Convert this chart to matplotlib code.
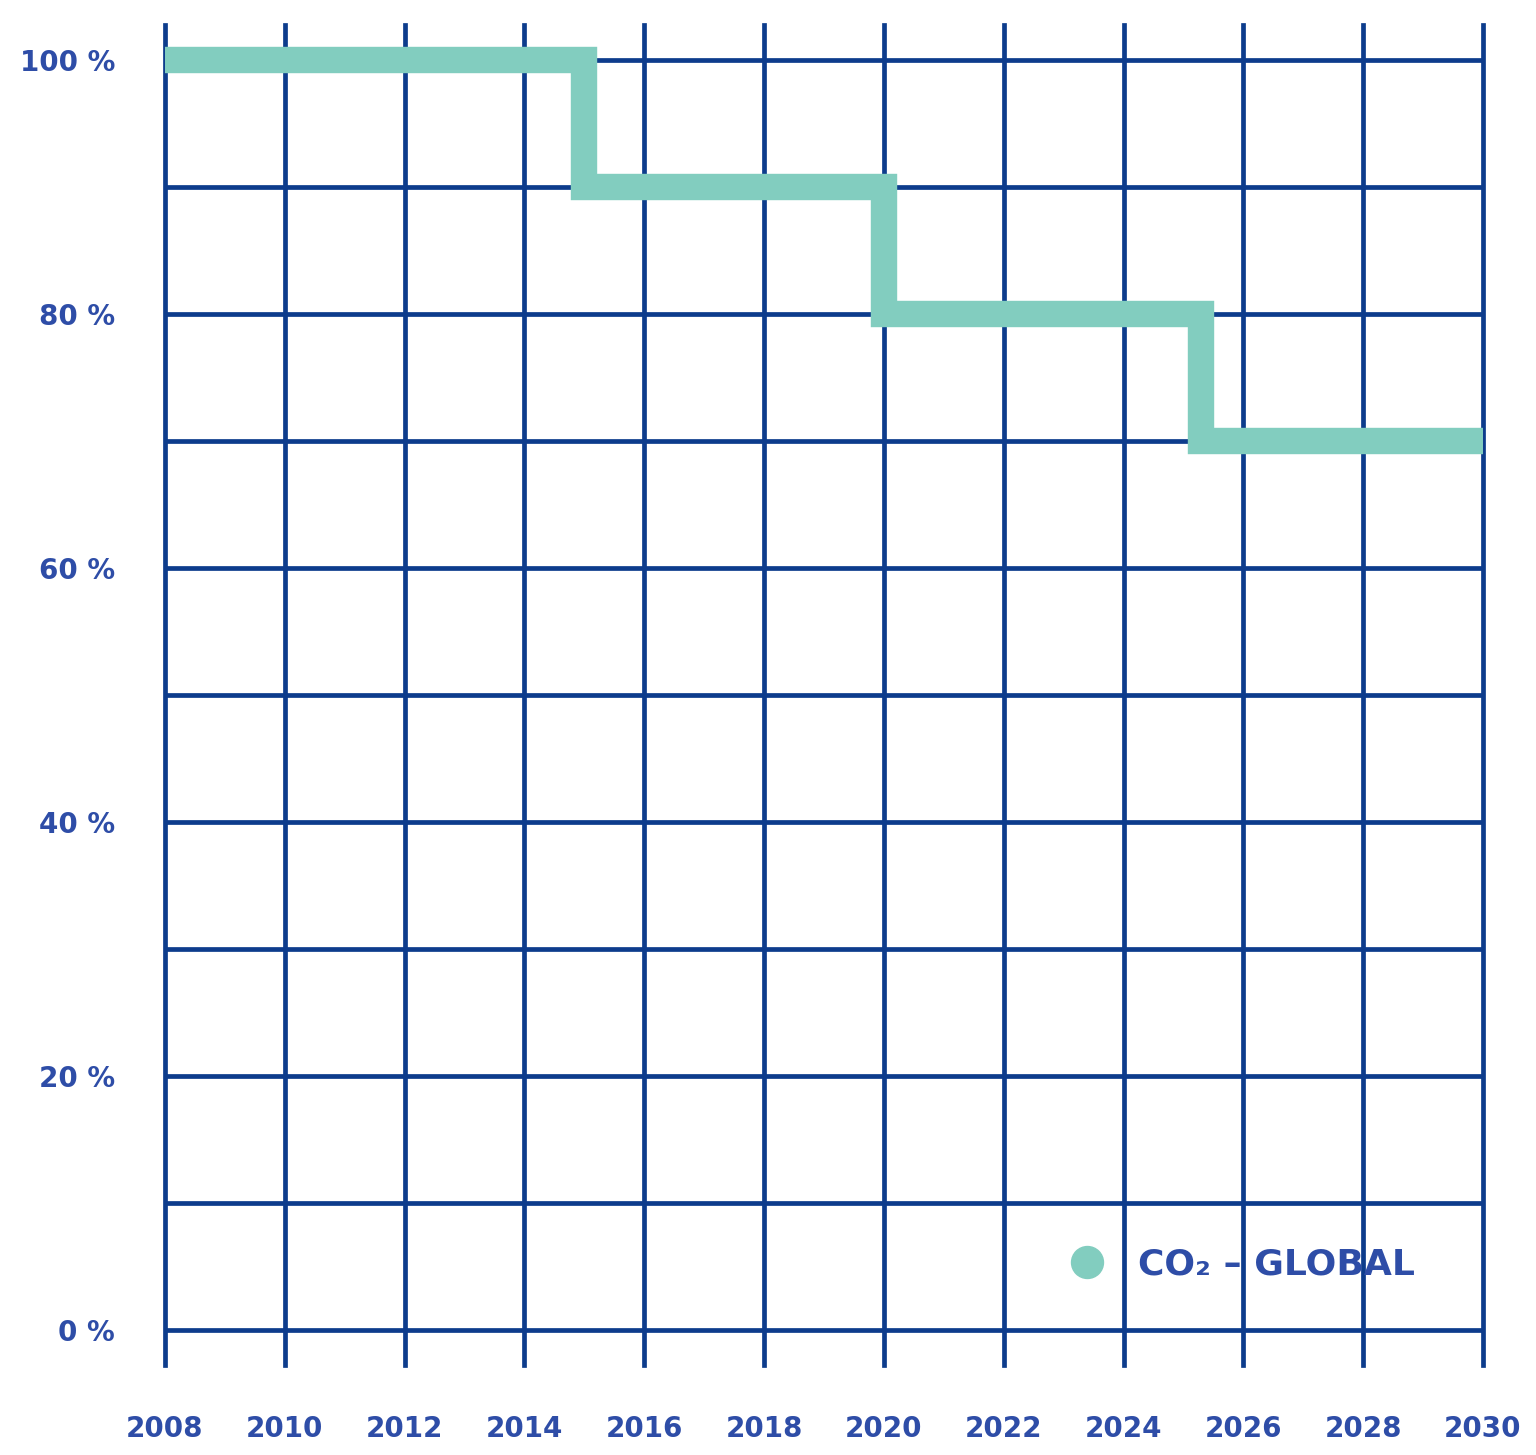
import numpy as np
import matplotlib.pyplot as plt
from matplotlib.lines import Line2D

# emission target path (share of base level, %)
step_years = [2008, 2015, 2020, 2025.3, 2030]
step_values = [100, 90, 80, 70, 70]

year_ticks = list(range(2008, 2031, 2))
pct_ticks = [0, 20, 40, 60, 80, 100]
pct_labels = ["0 %", "20 %", "40 %", "60 %", "80 %", "100 %"]
series_label = "CO₂ – GLOBAL"

navy = "#0D3C8C"
label_blue = "#2E4DA7"
green = "#82CDBF"

fig = plt.figure(figsize=(15.36, 14.55), dpi=100)
ax = fig.add_axes([165 / 1536, 90 / 1455, 1318 / 1536, 1340 / 1455])

ax.set_xlim(2008, 2030)
ax.set_ylim(-2.76, 102.76)

# grid drawn by hand: vertical lines run the full height, horizontals stop at the ends
for yr in year_ticks:
    ax.axvline(yr, color=navy, lw=3.4, clip_on=False, zorder=1)
ax.hlines(np.arange(0, 101, 10), 2008, 2030, color=navy, lw=3.4, zorder=1)

ax.step(step_years, step_values, where="post", color=green, lw=19,
        solid_capstyle="butt", solid_joinstyle="miter", zorder=3)

for s in ax.spines.values():
    s.set_visible(False)

ax.set_yticks(pct_ticks)
ax.set_yticklabels(pct_labels)
ax.set_xticks(year_ticks)
ax.set_xticklabels([str(y) for y in year_ticks])
ax.tick_params(axis="both", length=0, colors=label_blue, labelsize=20)
ax.tick_params(axis="y", pad=36)
ax.tick_params(axis="x", pad=36)
for t in ax.get_xticklabels() + ax.get_yticklabels():
    t.set_fontweight("bold")

handle = Line2D([], [], ls="none", marker="o", markersize=23,
                markerfacecolor=green, markeredgecolor=green)
leg = ax.legend([handle], [series_label], loc="center right",
                bbox_to_anchor=(0.948, 0.075), frameon=False,
                handletextpad=0.4, borderpad=0, borderaxespad=0,
                prop={"size": 26, "weight": "bold"})
for t in leg.get_texts():
    t.set_color(label_blue)

fig.savefig("out.png", dpi=100)
